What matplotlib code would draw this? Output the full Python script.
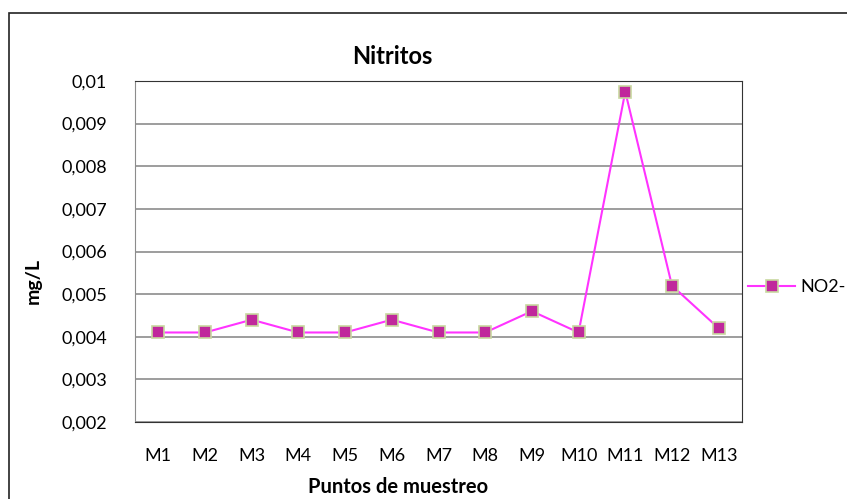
import matplotlib
matplotlib.use('Agg')
import matplotlib.pyplot as plt
from matplotlib.patches import Rectangle
from matplotlib.ticker import FuncFormatter, MultipleLocator

# sampling points and nitrite values (mg/L)
puntos = ['M1', 'M2', 'M3', 'M4', 'M5', 'M6', 'M7', 'M8', 'M9', 'M10', 'M11', 'M12', 'M13']
no2 = [0.0041, 0.0041, 0.0044, 0.0041, 0.0041, 0.0044, 0.0041, 0.0041, 0.0046, 0.0041, 0.00975, 0.0052, 0.0042]

plt.rcParams['font.family'] = ['Lato', 'DejaVu Sans']

fig = plt.figure(figsize=(8.47, 4.99), dpi=100)

# outer chart border (cut off on right and bottom like the original)
fig.patches.append(Rectangle((9/847, -0.05), 1.0, 1 - 13/499 + 0.05, transform=fig.transFigure,
                             fill=False, edgecolor='#222222', linewidth=1.2))

ax = fig.add_axes([135/847, 1 - 422/499, 607/847, 341/499])
x = list(range(len(puntos)))
ax.plot(x, no2, color='#FF33FF', linewidth=1.5, marker='s', markersize=8.5,
        markerfacecolor='#C0289C', markeredgecolor='#C8D8A0', markeredgewidth=1.2, label='NO2-')

ax.set_xlim(-0.5, len(puntos) - 0.5)
ax.set_ylim(0.002, 0.01)
ax.yaxis.set_major_locator(MultipleLocator(0.001))
ax.yaxis.set_major_formatter(FuncFormatter(lambda v, p: ('%g' % round(v, 4)).replace('.', ',')))
ax.set_xticks(x)
ax.set_xticklabels(puntos)
ax.tick_params(axis='x', length=0, labelsize=13, pad=19)
ax.tick_params(axis='y', length=0, labelsize=13, pad=20)
ax.grid(axis='y', color='#8c8c8c', linewidth=1.2)
ax.set_axisbelow(True)
for s in ['top', 'right', 'bottom']:
    ax.spines[s].set_color('#333333')
ax.spines['left'].set_color('#8c8c8c')

fig.text(392/847, 1 - 56/499, 'Nitritos', ha='center', va='center', fontsize=17, fontweight='bold')
fig.text(33/847, 1 - 281/499, 'mg/L', ha='center', va='center', rotation=90, fontsize=14, fontweight='bold')
fig.text(398/847, 1 - 487/499, 'Puntos de muestreo', ha='center', va='center', fontsize=14.5, fontweight='bold')

ax.legend(loc='center left', bbox_to_anchor=(732/847, 1 - 287/499), bbox_transform=fig.transFigure,
          frameon=False, fontsize=13, handlelength=2.6, handletextpad=0.3)

fig.savefig('out.png', dpi=100)
